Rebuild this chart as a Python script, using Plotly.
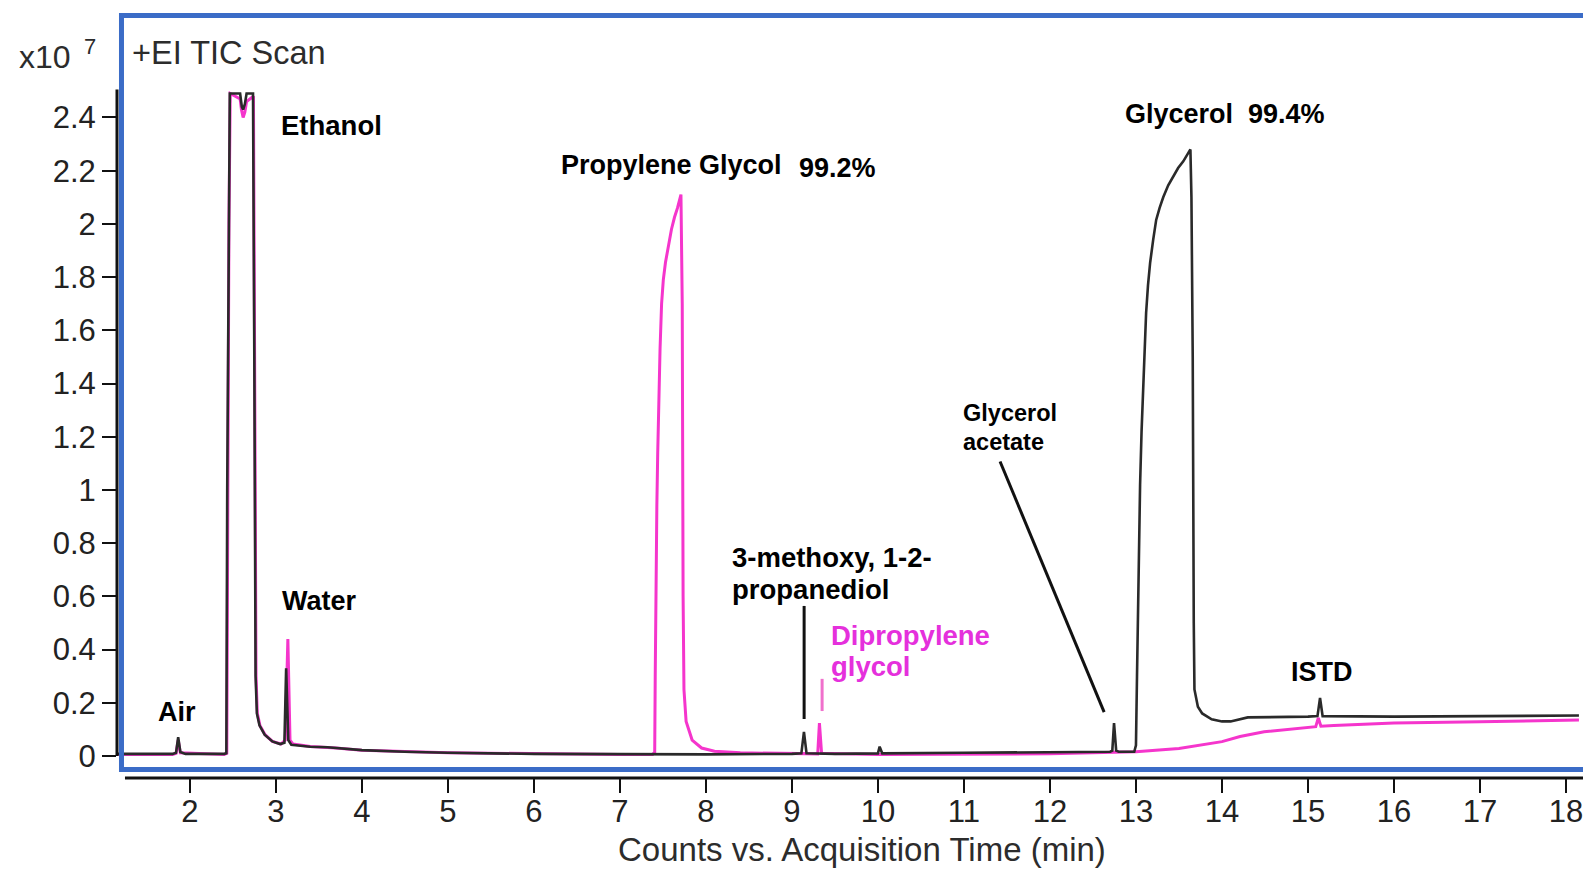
import plotly.graph_objects as go

# Total ion chromatograms, intensity in units of 10^7 counts
black_time = [1.16, 1.80, 1.84, 1.865, 1.89, 1.95, 2.40, 2.425, 2.435, 2.45, 2.465, 2.585, 2.605,
              2.62, 2.64, 2.66, 2.735, 2.75, 2.758, 2.765, 2.78, 2.81, 2.87, 2.96, 3.05, 3.10, 3.12,
              3.145, 3.18, 3.40, 3.60, 4.00, 4.50, 5.00, 6.00, 7.00, 8.00, 9.00, 9.11, 9.14, 9.17,
              9.50, 10.00, 10.02, 10.05, 11.00, 12.00, 12.70, 12.725, 12.745, 12.77, 12.80, 12.98,
              13.00, 13.012, 13.024, 13.036, 13.048, 13.065, 13.083, 13.10, 13.118, 13.14, 13.165,
              13.20, 13.235, 13.275, 13.317, 13.375, 13.434, 13.49, 13.55, 13.60, 13.633, 13.645,
              13.66, 13.672, 13.68, 13.72, 13.77, 13.88, 14.00, 14.10, 14.30, 15.00, 15.11, 15.14,
              15.17, 16.00, 17.00, 18.15]
black_counts = [0.008, 0.008, 0.012, 0.071, 0.015, 0.008, 0.008, 0.010, 1.00, 2.00, 2.49, 2.49, 2.44,
                2.43, 2.45, 2.49, 2.49, 1.50, 0.60, 0.30, 0.16, 0.115, 0.080, 0.055, 0.045, 0.050,
                0.33, 0.060, 0.042, 0.035, 0.033, 0.022, 0.016, 0.012, 0.008, 0.006, 0.006, 0.008,
                0.010, 0.091, 0.010, 0.008, 0.010, 0.035, 0.010, 0.012, 0.014, 0.016, 0.020, 0.124,
                0.020, 0.016, 0.016, 0.040, 0.30, 0.565, 0.80, 1.02, 1.22, 1.40, 1.54, 1.665, 1.77,
                1.855, 1.94, 2.015, 2.06, 2.10, 2.145, 2.18, 2.21, 2.235, 2.26, 2.28, 2.10, 1.50,
                0.50, 0.25, 0.185, 0.160, 0.138, 0.130, 0.130, 0.145, 0.148, 0.150, 0.218, 0.150,
                0.148, 0.150, 0.152]

magenta_time = [1.16, 1.80, 1.84, 1.865, 1.89, 2.40, 2.43, 2.44, 2.455, 2.47, 2.585, 2.60, 2.62,
                2.64, 2.66, 2.74, 2.755, 2.763, 2.77, 2.785, 2.815, 2.875, 2.96, 3.06, 3.11, 3.14,
                3.165, 3.20, 3.40, 3.70, 4.00, 5.00, 6.00, 7.00, 7.38, 7.405, 7.411, 7.417, 7.423,
                7.43, 7.44, 7.45, 7.467, 7.485, 7.505, 7.53, 7.565, 7.60, 7.635, 7.67, 7.71, 7.725,
                7.735, 7.745, 7.77, 7.84, 7.95, 8.10, 8.40, 9.00, 9.30, 9.32, 9.345, 10.00, 11.00,
                12.00, 13.00, 13.50, 14.00, 14.21, 14.49, 15.00, 15.09, 15.12, 15.15, 15.30, 16.00,
                17.00, 18.15]
magenta_counts = [0.006, 0.006, 0.010, 0.060, 0.012, 0.006, 0.010, 1.00, 2.00, 2.49, 2.47, 2.43,
                  2.40, 2.42, 2.46, 2.48, 1.50, 0.60, 0.30, 0.16, 0.115, 0.080, 0.055, 0.045, 0.060,
                  0.44, 0.060, 0.045, 0.036, 0.030, 0.022, 0.012, 0.008, 0.006, 0.006, 0.014, 0.30,
                  0.565, 0.76, 0.944, 1.14, 1.32, 1.53, 1.70, 1.79, 1.855, 1.925, 1.98, 2.025, 2.06,
                  2.11, 1.70, 0.60, 0.25, 0.13, 0.060, 0.030, 0.018, 0.012, 0.008, 0.008, 0.124,
                  0.010, 0.006, 0.006, 0.008, 0.016, 0.028, 0.054, 0.073, 0.091, 0.105, 0.110, 0.143,
                  0.112, 0.115, 0.124, 0.129, 0.135]

x_ticks = list(range(2, 19))
y_ticks = [0, 0.2, 0.4, 0.6, 0.8, 1, 1.2, 1.4, 1.6, 1.8, 2, 2.2, 2.4]

X_RANGE = [1.1536, 18.1507]
Y_RANGE = [-0.0827, 2.789]
W, H = 1583, 869
ML, MT, MB = 117, 14, 91
PW, PH = W - ML, H - MT - MB


def px_x(p):
    return (p - ML) / PW


def px_y(p):
    return (H - MB - p) / PH


MAGENTA = "#f535cc"
DARK = "#2a2a2a"
FONT = "Liberation Sans, Arial, sans-serif"

fig = go.Figure()
fig.add_trace(go.Scatter(x=magenta_time, y=magenta_counts, mode="lines",
                         line=dict(color=MAGENTA, width=3), hoverinfo="skip"))
fig.add_trace(go.Scatter(x=black_time, y=black_counts, mode="lines",
                         line=dict(color=DARK, width=2.6), hoverinfo="skip"))

shapes = [
    # blue frame around the trace area
    dict(type="rect", xref="paper", yref="paper", x0=px_x(121.5), x1=px_x(1600),
         y0=px_y(769.5), y1=px_y(15.5), line=dict(color="#3b6cc7", width=5)),
    # y axis line
    dict(type="line", xref="paper", yref="y", x0=0, x1=0, y0=0, y1=2.505,
         line=dict(color="#111", width=3)),
    # x axis line
    dict(type="line", xref="paper", yref="paper", x0=px_x(125), x1=1.02, y0=0, y1=0,
         line=dict(color="#111", width=3)),
    # label leaders
    dict(type="line", xref="x", yref="y", x0=9.142, x1=9.142, y0=0.564, y1=0.139,
         line=dict(color="#111", width=3)),
    dict(type="line", xref="x", yref="y", x0=9.351, x1=9.351, y0=0.29, y1=0.169,
         line=dict(color="#f070cc", width=3)),
    dict(type="line", xref="x", yref="y", x0=11.42, x1=12.63, y0=1.107, y1=0.165,
         line=dict(color="#111", width=3)),
]

annotations = []


def label(text, left, cy, size, color="#000", bold=True):
    annotations.append(dict(
        text=f"<b>{text}</b>" if bold else text,
        xref="paper", yref="paper", x=px_x(left), y=px_y(cy),
        xanchor="left", yanchor="middle", showarrow=False,
        font=dict(family=FONT, size=size, color=color)))


label("Air", 156, 712, 27)
label("Ethanol", 279, 125, 27.5)
label("Water", 280, 601, 27)
label("Propylene Glycol", 560, 165, 27)
label("99.2%", 799, 168, 27)
label("Glycerol  99.4%", 1126, 114, 27)
label("Glycerol", 963, 413, 23.5)
label("acetate", 963, 442, 23.5)
label("3-methoxy, 1-2-", 732, 557, 27.5)
label("propanediol", 732, 589, 27.5)
label("Dipropylene", 831, 635, 27.5, color="#e530dc")
label("glycol", 831, 666, 27.5, color="#e530dc")
label("ISTD", 1292, 672, 27)
label("+EI TIC Scan", 130, 53, 32.5, color="#2c2c2c", bold=False)
label("x10", 17, 57, 32, color="#2c2c2c", bold=False)
label("7", 82, 47, 22, color="#2c2c2c", bold=False)

annotations.append(dict(
    text="Counts vs. Acquisition Time (min)", xref="paper", yref="paper",
    x=px_x(864), y=px_y(849), xanchor="center", yanchor="middle", showarrow=False,
    font=dict(family=FONT, size=33, color="#2c2c2c")))

fig.update_layout(
    width=W, height=H,
    margin=dict(l=ML, r=0, t=MT, b=MB, pad=0),
    paper_bgcolor="white", plot_bgcolor="white",
    showlegend=False,
    shapes=shapes, annotations=annotations,
    xaxis=dict(range=X_RANGE, tickmode="array", tickvals=x_ticks,
               ticks="outside", ticklen=14, tickwidth=2, tickcolor="#111",
               ticklabelstandoff=-8, ticklabeloverflow="allow",
               showline=False, showgrid=False, zeroline=False,
               tickfont=dict(family=FONT, size=31, color="#222"), fixedrange=True),
    yaxis=dict(range=Y_RANGE, tickmode="array", tickvals=y_ticks,
               ticks="outside", ticklen=14, tickwidth=2, tickcolor="#111",
               showline=False, showgrid=False, zeroline=False,
               tickfont=dict(family=FONT, size=31, color="#222"), fixedrange=True),
)

fig.write_html("out.html")
